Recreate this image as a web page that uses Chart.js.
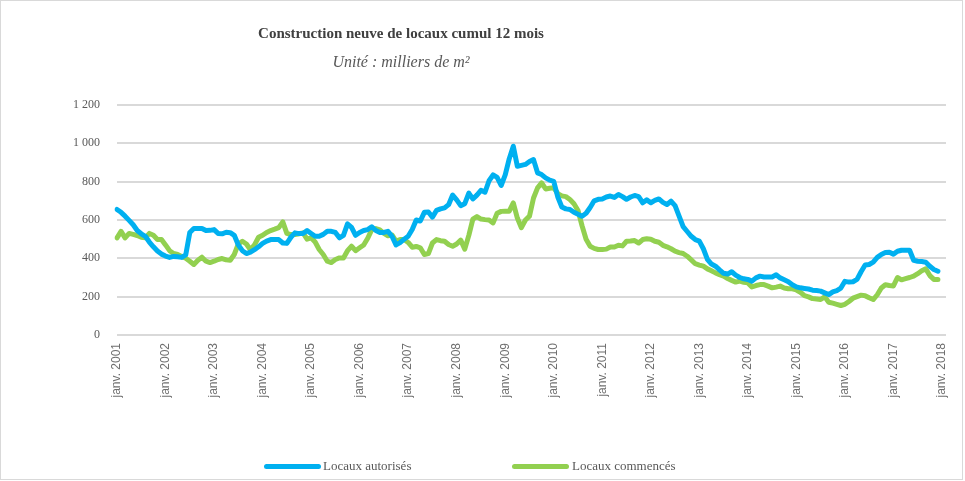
<!DOCTYPE html>
<html lang="fr">
<head>
<meta charset="utf-8">
<title>Construction neuve de locaux cumul 12 mois</title>
<script src="https://cdn.jsdelivr.net/npm/chart.js@4.4.1/dist/chart.umd.min.js"></script>
<style>
  html, body { margin: 0; padding: 0; background: #fff; }
  #wrap { position: relative; width: 965px; height: 481px; overflow: hidden; }
  #frame { position: absolute; left: 0; top: 0; width: 961px; height: 478px; border: 1px solid #d9d9d9; pointer-events: none; }
  #chartBox { position: absolute; left: 0; top: 0; width: 965px; height: 481px; }
  .title { position: absolute; left: 0; width: 802px; text-align: center; font-family: "Liberation Serif", serif; }
  #mainTitle { top: 23px; font-size: 15px; font-weight: bold; color: #404040; line-height: 20px; }
  #subTitle { top: 52px; font-size: 16px; font-style: italic; color: #595959; line-height: 20px; }
  .legLine { position: absolute; top: 464px; width: 57px; height: 5px; border-radius: 3px; }
  .legText { position: absolute; top: 457px; font-family: "Liberation Serif", serif; font-size: 13px; color: #595959; line-height: 18px; }
</style>
</head>
<body>
<div id="wrap">
  <div id="chartBox"><canvas id="chart"></canvas></div>
  <div id="mainTitle" class="title">Construction neuve de locaux cumul 12 mois</div>
  <div id="subTitle" class="title">Unité : milliers de m²</div>
  <div class="legLine" style="left:264px;background:#00b0f0"></div>
  <div class="legText" style="left:323px">Locaux autorisés</div>
  <div class="legLine" style="left:512px;background:#92d050"></div>
  <div class="legText" style="left:572px">Locaux commencés</div>
  <div id="frame"></div>
</div>
<script>
// mois / années de l'axe
const monthNames = ['janv.', 'févr.', 'mars', 'avr.', 'mai', 'juin', 'juil.', 'août', 'sept.', 'oct.', 'nov.', 'déc.'];
const years = [2001, 2002, 2003, 2004, 2005, 2006, 2007, 2008, 2009, 2010, 2011, 2012, 2013, 2014, 2015, 2016, 2017, 2018];

// milliers de m2, cumul 12 mois, janv. 2001 -> déc. 2017
const locauxAutorises = [
  655, 640, 620, 598, 575, 545, 528, 515, 485, 460, 438, 422,
  412, 405, 410, 408, 405, 418, 535, 556, 556, 556, 545, 546,
  550, 530, 528, 536, 534, 520, 470, 440, 425, 432, 445, 460,
  478, 490, 498, 498, 498, 480, 478, 510, 533, 529, 530, 545,
  530, 515, 515, 525, 541, 541, 535, 507, 520, 580, 562, 520,
  535, 545, 550, 565, 545, 535, 535, 541, 515, 470, 482, 500,
  515, 550, 600, 595, 640, 642, 615, 650, 658, 663, 680, 730,
  705, 675, 685, 740, 710, 730, 755, 745, 805, 835, 822, 780,
  835, 920, 985, 880, 885, 890, 905, 915, 846, 837, 820, 808,
  802, 720, 668, 658, 655, 640, 630, 620, 635, 665, 700, 708,
  710, 720, 725, 718, 733, 722, 708, 720, 728, 722, 690, 705,
  690, 702, 710, 692, 681, 698, 675, 620, 565, 540, 515, 498,
  490, 450, 395, 370, 359, 340, 322, 318, 330, 312, 300, 293,
  290, 281, 298, 307, 303, 303, 303, 314, 298, 288, 278, 262,
  251, 246, 243, 240, 234, 232, 229, 220, 211, 225, 232, 245,
  280, 276, 278, 290, 330, 365, 368, 380, 405, 420, 430, 432,
  422, 437, 442, 442, 442, 390, 385, 383, 380, 359, 342, 333
];

const locauxCommences = [
  507, 541, 507, 530, 525, 519, 510, 507, 530, 520, 498, 498,
  470, 440, 425, 420, 410, 400, 385, 368, 390, 406, 385, 378,
  385, 394, 399, 392, 390, 420, 475, 489, 475, 445, 470, 510,
  520, 535, 545, 552, 560, 590, 530, 524, 524, 528, 533, 500,
  507, 485, 446, 420, 385, 378, 394, 402, 402, 440, 463, 440,
  455, 470, 505, 550, 555, 548, 530, 518, 522, 490, 498, 498,
  483, 458, 462, 455, 420, 425, 480, 498, 492, 489, 472, 463,
  475, 495, 448, 520, 605, 618, 605, 602, 600, 585, 635, 645,
  646, 646, 689, 610, 560, 600, 620, 715, 768, 794, 762, 766,
  768, 738, 726, 722, 707, 685, 650, 570, 500, 463, 452, 446,
  446, 448, 459, 459, 468, 465, 489, 490, 493, 480, 498, 502,
  500, 489, 484, 468, 460, 450, 437, 430, 425, 411, 392, 372,
  365, 359, 345, 335, 324, 315, 307, 295, 285, 276, 281, 275,
  272, 251, 258, 263, 263, 255, 246, 250, 255, 245, 241, 241,
  235, 223, 205, 199, 190, 188, 185, 199, 171, 166, 160, 154,
  160, 175, 192, 200, 208, 205, 194, 185, 210, 245, 262, 258,
  256, 300, 288, 294, 300, 307, 320, 335, 345, 310, 290, 290
];

// one label per month, axis runs a bit past janv. 2018
const labels = [];
years.forEach(y => monthNames.forEach(m => labels.push(m + ' ' + y)));
labels.length = locauxAutorises.length + 2;

const fmtThousands = (v) => {
  if (v >= 1000) return Math.floor(v / 1000) + ' ' + String(v % 1000).padStart(3, '0');
  return String(v);
};

new Chart(document.getElementById('chart'), {
  type: 'line',
  data: {
    labels: labels,
    datasets: [
      {
        label: 'Locaux autorisés',
        data: locauxAutorises,
        borderColor: '#00b0f0',
        backgroundColor: '#00b0f0',
        borderWidth: 5,
        pointRadius: 0,
        tension: 0,
        borderCapStyle: 'round',
        borderJoinStyle: 'round',
      },
      {
        label: 'Locaux commencés',
        data: locauxCommences,
        borderColor: '#92d050',
        backgroundColor: '#92d050',
        borderWidth: 5,
        pointRadius: 0,
        tension: 0,
        borderCapStyle: 'round',
        borderJoinStyle: 'round',
      }
    ]
  },
  options: {
    responsive: true,
    maintainAspectRatio: false,
    animation: false,
    layout: { padding: { top: 105, right: 19, bottom: 0, left: 0 } },
    plugins: {
      legend: { display: false },
      title: { display: false },
      tooltip: { enabled: false }
    },
    scales: {
      x: {
        afterFit: (s) => { s.height = 146; },
        grid: { display: false, drawTicks: false },
        border: { display: false },
        ticks: {
          autoSkip: false,
          minRotation: 90,
          maxRotation: 90,
          padding: 8,
          color: '#6f6f6f',
          font: { family: '"Liberation Sans", Arial, sans-serif', size: 12 },
          callback: (v, i) => (labels[i] && labels[i].startsWith('janv.')) ? labels[i] : null
        }
      },
      y: {
        min: 0,
        max: 1200,
        afterFit: (s) => { s.width = 117; },
        grid: { color: '#d9d9d9', lineWidth: 2, drawTicks: false },
        border: { display: false },
        ticks: {
          stepSize: 200,
          padding: 17,
          color: '#595959',
          font: { family: '"Liberation Serif", serif', size: 12 },
          callback: (v) => fmtThousands(v)
        }
      }
    }
  }
});
</script>
</body>
</html>
